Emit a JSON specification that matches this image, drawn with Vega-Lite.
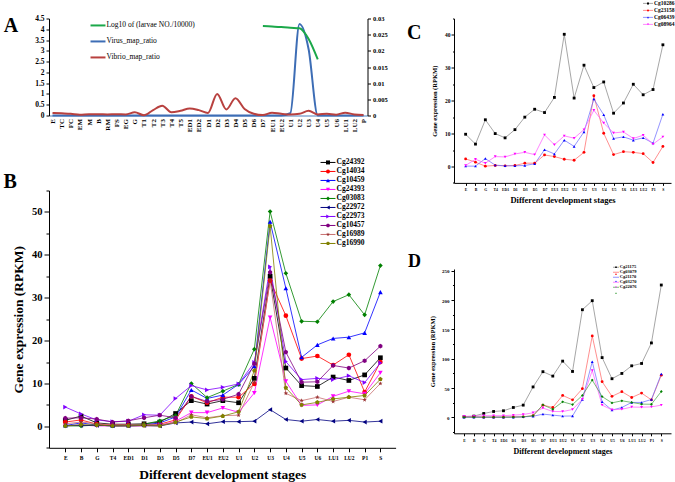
{
"$schema": "https://vega.github.io/schema/vega-lite/v6.json",
"padding": {"left": 3, "top": 0.5, "right": 0, "bottom": 0},
"background": "white",
"datasets": {
"A": [
{"s":"E","Virus_map_ratio":0,"Vibrio_map_ratio":0.0008},
{"s":"TC","Virus_map_ratio":0,"Vibrio_map_ratio":0.00067},
{"s":"FC","Virus_map_ratio":0,"Vibrio_map_ratio":0.00053},
{"s":"EM","Virus_map_ratio":0,"Vibrio_map_ratio":0.00027},
{"s":"M","Virus_map_ratio":0,"Vibrio_map_ratio":0.0004},
{"s":"B","Virus_map_ratio":0,"Vibrio_map_ratio":0.0004},
{"s":"RM","Virus_map_ratio":0,"Vibrio_map_ratio":0.00033},
{"s":"FS","Virus_map_ratio":0,"Vibrio_map_ratio":0.0004},
{"s":"EG","Virus_map_ratio":0,"Vibrio_map_ratio":0.00033},
{"s":"G","Virus_map_ratio":0,"Vibrio_map_ratio":0.001},
{"s":"T1","Virus_map_ratio":0,"Vibrio_map_ratio":0.00007},
{"s":"T2","Virus_map_ratio":0,"Vibrio_map_ratio":0.00167},
{"s":"T3","Virus_map_ratio":0,"Vibrio_map_ratio":0.003},
{"s":"T4","Virus_map_ratio":0,"Vibrio_map_ratio":0.001},
{"s":"T5","Virus_map_ratio":0,"Vibrio_map_ratio":0.00147},
{"s":"ED1","Virus_map_ratio":0,"Vibrio_map_ratio":0.0022},
{"s":"ED2","Virus_map_ratio":0,"Vibrio_map_ratio":0.00167},
{"s":"D1","Virus_map_ratio":0,"Vibrio_map_ratio":0.0008},
{"s":"D2","Virus_map_ratio":0,"Vibrio_map_ratio":0.00667},
{"s":"D3","Virus_map_ratio":0,"Vibrio_map_ratio":0.00187},
{"s":"D4","Virus_map_ratio":0,"Vibrio_map_ratio":0.00533},
{"s":"D5","Virus_map_ratio":0,"Vibrio_map_ratio":0.002},
{"s":"D6","Virus_map_ratio":0,"Vibrio_map_ratio":0.00053},
{"s":"D7","Virus_map_ratio":0,"Vibrio_map_ratio":0.00013,"log":4.15},
{"s":"EU1","Virus_map_ratio":0,"Vibrio_map_ratio":0.00087,"log":4.13},
{"s":"EU2","Virus_map_ratio":0,"Vibrio_map_ratio":0.00053,"log":4.1},
{"s":"U1","Virus_map_ratio":0.0007,"Vibrio_map_ratio":0.00033,"log":4.07},
{"s":"U2","Virus_map_ratio":0.0283,"Vibrio_map_ratio":0.00053,"log":4.05},
{"s":"U3","Virus_map_ratio":0.0205,"Vibrio_map_ratio":0.00147,"log":3.55},
{"s":"U4","Virus_map_ratio":0,"Vibrio_map_ratio":0.00033,"log":2.6},
{"s":"U5","Virus_map_ratio":0,"Vibrio_map_ratio":0.00053},
{"s":"U6","Virus_map_ratio":0,"Vibrio_map_ratio":0.00027},
{"s":"LU1","Virus_map_ratio":0,"Vibrio_map_ratio":0.00087},
{"s":"LU2","Virus_map_ratio":0,"Vibrio_map_ratio":0.00033},
{"s":"P","Virus_map_ratio":0,"Vibrio_map_ratio":0.00013}
],
"B": [
{"s":"E","Cg24392":1.4,"Cg14034":1.0,"Cg10459":0.2,"Cg24393":0.1,"Cg03083":0.1,"Cg22972":0.2,"Cg22973":4.5,"Cg10457":1.9,"Cg16989":0.6,"Cg16990":0.1},
{"s":"B","Cg24392":2.4,"Cg14034":1.5,"Cg10459":0.8,"Cg24393":0.3,"Cg03083":0.1,"Cg22972":0.2,"Cg22973":2.9,"Cg10457":2.0,"Cg16989":1.0,"Cg16990":0.4},
{"s":"G","Cg24392":0.8,"Cg14034":0.5,"Cg10459":0.3,"Cg24393":0.1,"Cg03083":0.3,"Cg22972":0.2,"Cg22973":1.5,"Cg10457":1.7,"Cg16989":0.6,"Cg16990":0.3},
{"s":"T4","Cg24392":0.5,"Cg14034":0.3,"Cg10459":0.1,"Cg24393":0.1,"Cg03083":0.1,"Cg22972":0.2,"Cg22973":1.1,"Cg10457":1.0,"Cg16989":0.3,"Cg16990":0.1},
{"s":"ED1","Cg24392":0.5,"Cg14034":0.3,"Cg10459":0.2,"Cg24393":0.1,"Cg03083":0.2,"Cg22972":0.1,"Cg22973":1.2,"Cg10457":1.3,"Cg16989":0.3,"Cg16990":0.1},
{"s":"D1","Cg24392":0.6,"Cg14034":0.4,"Cg10459":0.3,"Cg24393":0.1,"Cg03083":0.5,"Cg22972":0.2,"Cg22973":2.7,"Cg10457":2.0,"Cg16989":0.4,"Cg16990":0.2},
{"s":"D3","Cg24392":1.0,"Cg14034":0.5,"Cg10459":0.8,"Cg24393":0.2,"Cg03083":1.3,"Cg22972":0.1,"Cg22973":2.6,"Cg10457":2.6,"Cg16989":0.4,"Cg16990":0.1},
{"s":"D5","Cg24392":3.0,"Cg14034":1.5,"Cg10459":2.2,"Cg24393":1.2,"Cg03083":2.5,"Cg22972":0.8,"Cg22973":6.5,"Cg10457":2.0,"Cg16989":0.8,"Cg16990":1.0},
{"s":"D7","Cg24392":6.0,"Cg14034":7.0,"Cg10459":8.5,"Cg24393":3.2,"Cg03083":10.0,"Cg22972":1.0,"Cg22973":9.5,"Cg10457":7.0,"Cg16989":2.7,"Cg16990":2.2},
{"s":"EU1","Cg24392":5.2,"Cg14034":5.5,"Cg10459":6.5,"Cg24393":3.2,"Cg03083":6.7,"Cg22972":0.6,"Cg22973":8.5,"Cg10457":5.8,"Cg16989":2.0,"Cg16990":1.8},
{"s":"EU2","Cg24392":6.0,"Cg14034":6.8,"Cg10459":7.3,"Cg24393":4.3,"Cg03083":8.2,"Cg22972":1.1,"Cg22973":9.1,"Cg10457":6.3,"Cg16989":2.5,"Cg16990":2.4},
{"s":"U1","Cg24392":5.5,"Cg14034":6.8,"Cg10459":9.8,"Cg24393":3.3,"Cg03083":9.8,"Cg22972":1.1,"Cg22973":9.9,"Cg10457":7.5,"Cg16989":2.6,"Cg16990":3.4},
{"s":"U2","Cg24392":11.2,"Cg14034":9.9,"Cg10459":14.0,"Cg24393":7.8,"Cg03083":18.0,"Cg22972":1.2,"Cg22973":14.9,"Cg10457":14.6,"Cg16989":10.3,"Cg16990":13.0},
{"s":"U3","Cg24392":35.0,"Cg14034":34.0,"Cg10459":47.7,"Cg24393":25.4,"Cg03083":50.1,"Cg22972":3.9,"Cg22973":37.2,"Cg10457":35.9,"Cg16989":34.0,"Cg16990":46.7},
{"s":"U4","Cg24392":13.6,"Cg14034":25.8,"Cg10459":32.2,"Cg24393":10.5,"Cg03083":35.7,"Cg22972":1.6,"Cg22973":15.1,"Cg10457":17.3,"Cg16989":7.7,"Cg16990":9.0},
{"s":"U5","Cg24392":9.5,"Cg14034":15.8,"Cg10459":16.1,"Cg24393":4.9,"Cg03083":24.5,"Cg22972":1.2,"Cg22973":10.9,"Cg10457":10.3,"Cg16989":6.0,"Cg16990":5.0},
{"s":"U6","Cg24392":9.3,"Cg14034":16.4,"Cg10459":19.0,"Cg24393":5.0,"Cg03083":24.4,"Cg22972":1.6,"Cg22973":11.2,"Cg10457":10.4,"Cg16989":6.8,"Cg16990":5.6},
{"s":"LU1","Cg24392":11.5,"Cg14034":14.3,"Cg10459":20.5,"Cg24393":7.0,"Cg03083":29.1,"Cg22972":1.2,"Cg22973":10.9,"Cg10457":14.2,"Cg16989":5.8,"Cg16990":6.4},
{"s":"LU2","Cg24392":10.7,"Cg14034":16.7,"Cg10459":20.8,"Cg24393":8.2,"Cg03083":30.7,"Cg22972":1.4,"Cg22973":11.8,"Cg10457":13.6,"Cg16989":6.8,"Cg16990":6.8},
{"s":"P1","Cg24392":12.0,"Cg14034":8.0,"Cg10459":21.8,"Cg24393":7.6,"Cg03083":26.0,"Cg22972":1.0,"Cg22973":10.2,"Cg10457":15.3,"Cg16989":6.2,"Cg16990":7.2},
{"s":"S","Cg24392":16.0,"Cg14034":15.0,"Cg10459":31.3,"Cg24393":12.5,"Cg03083":37.5,"Cg22972":1.2,"Cg22973":14.8,"Cg10457":18.7,"Cg16989":10.0,"Cg16990":11.0}
],
"C": [
{"s":"E","Cg10286":9.8,"Cg23158":2.3,"Cg06439":0.1,"Cg08964":0.3},
{"s":"B","Cg10286":6.8,"Cg23158":1.3,"Cg06439":0.1,"Cg08964":2.2},
{"s":"G","Cg10286":14.2,"Cg23158":0.1,"Cg06439":2.4,"Cg08964":1.0},
{"s":"T4","Cg10286":10.0,"Cg23158":0.3,"Cg06439":0.4,"Cg08964":3.0},
{"s":"ED1","Cg10286":8.7,"Cg23158":0.2,"Cg06439":0.2,"Cg08964":2.9},
{"s":"D1","Cg10286":11.2,"Cg23158":0.3,"Cg06439":0.2,"Cg08964":3.8},
{"s":"D3","Cg10286":15.0,"Cg23158":1.0,"Cg06439":0.3,"Cg08964":4.3},
{"s":"D5","Cg10286":17.4,"Cg23158":1.0,"Cg06439":0.8,"Cg08964":3.6},
{"s":"D7","Cg10286":16.4,"Cg23158":3.5,"Cg06439":5.1,"Cg08964":9.6},
{"s":"EU1","Cg10286":21.0,"Cg23158":3.0,"Cg06439":3.8,"Cg08964":6.6},
{"s":"EU2","Cg10286":40.2,"Cg23158":2.2,"Cg06439":8.0,"Cg08964":9.3},
{"s":"U1","Cg10286":20.8,"Cg23158":1.9,"Cg06439":6.1,"Cg08964":8.6},
{"s":"U2","Cg10286":30.8,"Cg23158":4.3,"Cg06439":10.5,"Cg08964":11.2},
{"s":"U3","Cg10286":24.0,"Cg23158":21.5,"Cg06439":20.5,"Cg08964":17.1},
{"s":"U4","Cg10286":25.7,"Cg23158":10.1,"Cg06439":15.7,"Cg08964":13.2},
{"s":"U5","Cg10286":16.2,"Cg23158":3.6,"Cg06439":8.5,"Cg08964":10.2},
{"s":"U6","Cg10286":19.3,"Cg23158":4.5,"Cg06439":9.0,"Cg08964":10.5},
{"s":"LU1","Cg10286":25.0,"Cg23158":4.3,"Cg06439":8.0,"Cg08964":8.5},
{"s":"LU2","Cg10286":21.8,"Cg23158":3.9,"Cg06439":8.7,"Cg08964":9.5},
{"s":"P1","Cg10286":23.4,"Cg23158":1.2,"Cg06439":7.1,"Cg08964":6.8},
{"s":"S","Cg10286":37.0,"Cg23158":6.1,"Cg06439":15.9,"Cg08964":9.0}
],
"D": [
{"s":"E","Cg21175":1.2,"Cg03079":1,"Cg21170":0.5,"Cg03270":2,"Cg22076":0.5},
{"s":"B","Cg21175":2.3,"Cg03079":1,"Cg21170":0.5,"Cg03270":2,"Cg22076":0.5},
{"s":"G","Cg21175":6.8,"Cg03079":0.5,"Cg21170":0.5,"Cg03270":3,"Cg22076":0.5},
{"s":"T4","Cg21175":10.2,"Cg03079":0.5,"Cg21170":0.5,"Cg03270":3,"Cg22076":0.5},
{"s":"ED1","Cg21175":11.4,"Cg03079":0.5,"Cg21170":0.5,"Cg03270":3,"Cg22076":0.5},
{"s":"D1","Cg21175":17,"Cg03079":1,"Cg21170":0.5,"Cg03270":4,"Cg22076":0.5},
{"s":"D3","Cg21175":21,"Cg03079":1,"Cg21170":1,"Cg03270":5,"Cg22076":1},
{"s":"D5","Cg21175":52,"Cg03079":3,"Cg21170":2,"Cg03270":8,"Cg22076":3},
{"s":"D7","Cg21175":78,"Cg03079":21,"Cg21170":5.7,"Cg03270":16,"Cg22076":21.5},
{"s":"EU1","Cg21175":70.5,"Cg03079":17,"Cg21170":4,"Cg03270":10.2,"Cg22076":14},
{"s":"EU2","Cg21175":96,"Cg03079":37.5,"Cg21170":2.3,"Cg03270":10,"Cg22076":26.7},
{"s":"U1","Cg21175":78.4,"Cg03079":30,"Cg21170":2.5,"Cg03270":13.6,"Cg22076":22},
{"s":"U2","Cg21175":183.6,"Cg03079":49,"Cg21170":30.7,"Cg03270":31,"Cg22076":37.5},
{"s":"U3","Cg21175":199,"Cg03079":139,"Cg21170":95,"Cg03270":80,"Cg22076":63.7},
{"s":"U4","Cg21175":102,"Cg03079":61,"Cg21170":26.7,"Cg03270":21,"Cg22076":35.6},
{"s":"U5","Cg21175":66,"Cg03079":36,"Cg21170":12.5,"Cg03270":13,"Cg22076":24.8},
{"s":"U6","Cg21175":75,"Cg03079":44,"Cg21170":17,"Cg03270":14,"Cg22076":28.4},
{"s":"LU1","Cg21175":88,"Cg03079":34,"Cg21170":25.6,"Cg03270":17.7,"Cg22076":25.6},
{"s":"LU2","Cg21175":92,"Cg03079":41.5,"Cg21170":25.6,"Cg03270":17.5,"Cg22076":22.7},
{"s":"P1","Cg21175":127,"Cg03079":30,"Cg21170":30.6,"Cg03270":18,"Cg22076":22.5},
{"s":"S","Cg21175":225.7,"Cg03079":72,"Cg21170":74,"Cg03270":21,"Cg22076":44.3}
]
},
"spacing": 11,
"bounds": "full",
"resolve": {"scale": {"x": "independent", "y": "independent", "color": "independent", "stroke": "independent", "fill": "independent", "shape": "independent"}, "legend": {"color": "independent", "stroke": "independent", "fill": "independent", "shape": "independent"}},
"hconcat": [
{
"spacing": 75,
"bounds": "flush",
"resolve": {"scale": {"x": "independent", "y": "independent", "color": "independent", "stroke": "independent", "fill": "independent", "shape": "independent"}, "legend": {"color": "independent", "stroke": "independent", "fill": "independent", "shape": "independent"}},
"vconcat": [
{
"width": 318.5,
"height": 97,
"title": {"text": "A", "fontSize": 20, "dx": -45.2, "dy": 25},
"data": {"name": "A"},
"layer": [
{
"transform": [{"fold": ["Virus_map_ratio", "Vibrio_map_ratio"], "as": ["series", "v"]}],
"mark": {"type": "line", "strokeWidth": 2, "interpolate": "monotone"},
"encoding": {
"x": {"field": "s", "type": "nominal", "scale": {"type": "point", "domain": ["E","TC","FC","EM","M","B","RM","FS","EG","G","T1","T2","T3","T4","T5","ED1","ED2","D1","D2","D3","D4","D5","D6","D7","EU1","EU2","U1","U2","U3","U4","U5","U6","LU1","LU2","P"], "padding": 0.41, "align": 0.467}, "axis": {"labelAngle": 270, "labelFontSize": 7, "title": null, "ticks": false, "domainColor": "#4F81BD", "labelPadding": 3}},
"y": {"field": "v", "type": "quantitative", "scale": {"domain": [0, 0.03], "nice": false, "zero": false}, "axis": {"orient": "right", "values": [0, 0.005, 0.01, 0.015, 0.02, 0.025, 0.03], "format": "~g", "title": null, "labelFontSize": 6.5, "tickSize": 3, "labelPadding": 2}},
"color": {"field": "series", "type": "nominal", "scale": {"domain": ["Log10 of (larvae NO./10000)", "Virus_map_ratio", "Vibrio_map_ratio"], "range": ["#1BA84A", "#3D6DB5", "#B8413F"]}, "legend": {"orient": "none", "legendX": 45.25, "legendY": 3.2, "title": null, "symbolType": "M-4,0H4", "symbolSize": 14, "symbolStrokeWidth": 2, "labelFontSize": 7.5, "labelFontWeight": "normal", "rowPadding": 7, "labelOffset": 4.75}}
}
},
{
"transform": [{"filter": "isValid(datum.log)"}],
"mark": {"type": "line", "strokeWidth": 2, "interpolate": "monotone"},
"encoding": {
"x": {"field": "s", "type": "nominal", "scale": {"type": "point", "domain": ["E","TC","FC","EM","M","B","RM","FS","EG","G","T1","T2","T3","T4","T5","ED1","ED2","D1","D2","D3","D4","D5","D6","D7","EU1","EU2","U1","U2","U3","U4","U5","U6","LU1","LU2","P"], "padding": 0.41, "align": 0.467}, "axis": {"labelAngle": 270, "labelFontSize": 7, "title": null, "ticks": false, "domainColor": "#4F81BD", "labelPadding": 3}},
"y": {"field": "log", "type": "quantitative", "scale": {"domain": [0, 4.5], "nice": false, "zero": false}, "axis": {"orient": "left", "values": [0, 0.5, 1, 1.5, 2, 2.5, 3, 3.5, 4, 4.5], "format": "~g", "title": null, "labelFontSize": 7.5, "tickSize": 3, "labelPadding": 2}},
"color": {"datum": "Log10 of (larvae NO./10000)", "type": "nominal", "scale": {"domain": ["Log10 of (larvae NO./10000)", "Virus_map_ratio", "Vibrio_map_ratio"], "range": ["#1BA84A", "#3D6DB5", "#B8413F"]}, "legend": {"orient": "none", "legendX": 45.25, "legendY": 3.2, "title": null, "symbolType": "M-4,0H4", "symbolSize": 14, "symbolStrokeWidth": 2, "labelFontSize": 7.5, "labelFontWeight": "normal", "rowPadding": 7, "labelOffset": 4.75}}
}
}
],
"resolve": {"scale": {"y": "independent"}}
},
{
"width": 346.6,
"height": 257.3,
"title": {"text": "B", "fontSize": 20, "dx": -45.5, "dy": 37},
"data": {"name": "B"},
"transform": [{"fold": ["Cg24392","Cg14034","Cg10459","Cg24393","Cg03083","Cg22972","Cg22973","Cg10457","Cg16989","Cg16990"], "as": ["g", "v"]}],
"encoding": {
"x": {"field": "s", "type": "nominal", "scale": {"type": "point", "domain": ["E","B","G","T4","ED1","D1","D3","D5","D7","EU1","EU2","U1","U2","U3","U4","U5","U6","LU1","LU2","P1","S"], "padding": 2.05, "align": 0.517}, "axis": {"labelAngle": 0, "labelFontSize": 5.5, "tickSize": 4, "labelPadding": 3.5, "title": "Different development stages", "titleFontSize": 13.5, "titlePadding": 7}},
"y": {"field": "v", "type": "quantitative", "scale": {"domain": [-5, 55], "nice": false, "zero": false}, "axis": {"values": [-5,0,5,10,15,20,25,30,35,40,45,50,55], "labelExpr": "datum.value >= 0 && datum.value % 10 == 0 ? datum.label : ''", "tickSize": {"condition": {"test": "datum.value % 10 == 0", "value": 5}, "value": 3}, "labelFontSize": 10.5, "labelPadding": 2, "title": "Gene expression (RPKM)", "titleFontSize": 13.5, "titlePadding": 6}}
},
"layer": [
{
"mark": {"type": "line", "strokeWidth": 0.8},
"encoding": {
"stroke": {"field": "g", "type": "nominal", "scale": {"domain": ["Cg24392","Cg14034","Cg10459","Cg24393","Cg03083","Cg22972","Cg22973","Cg10457","Cg16989","Cg16990"], "range": ["#000000","#FF0000","#0000FF","#FF00FF","#008000","#000080","#8000FF","#800080","#C87070","#808000"]}, "legend": {"orient": "none", "legendX": 275.25, "legendY": -31.8, "title": null, "symbolType": "M-4,0H4", "symbolSize": 14, "symbolStrokeWidth": 1, "labelFontSize": 7.5, "rowPadding": 0.001, "labelOffset": 4.75}}
}
},
{
"mark": {"type": "point", "filled": true, "size": 22, "opacity": 1},
"encoding": {
"shape": {"field": "g", "type": "nominal", "scale": {"domain": ["Cg24392","Cg14034","Cg10459","Cg24393","Cg03083","Cg22972","Cg22973","Cg10457","Cg16989","Cg16990","~"], "range": ["square","circle","triangle-up","triangle-down","diamond","triangle-left","triangle-right","M0,-1L0.866,-0.5L0.866,0.5L0,1L-0.866,0.5L-0.866,-0.5Z","M0,-1L0.235,-0.324L0.951,-0.309L0.38,0.124L0.588,0.809L0,0.4L-0.588,0.809L-0.38,0.124L-0.951,-0.309L-0.235,-0.324Z","M0,-1L0.951,-0.309L0.588,0.809L-0.588,0.809L-0.951,-0.309Z","M0,0"]}, "legend": {"orient": "none", "legendX": 275.25, "legendY": -31.8, "title": null, "values": ["Cg24392","Cg14034","Cg10459","Cg24393","Cg03083","Cg22972","Cg22973","Cg10457","Cg16989","Cg16990"], "symbolSize": 16, "labelFontSize": 7.5, "labelOpacity": 0, "rowPadding": -2.1, "labelOffset": -60}},
"fill": {"field": "g", "type": "nominal", "scale": {"domain": ["Cg24392","Cg14034","Cg10459","Cg24393","Cg03083","Cg22972","Cg22973","Cg10457","Cg16989","Cg16990","~"], "range": ["#000000","#FF0000","#0000FF","#FF00FF","#008000","#000080","#8000FF","#800080","#993333","#808000","#ffffff"]}, "legend": {"orient": "none", "legendX": 275.25, "legendY": -31.8, "title": null, "values": ["Cg24392","Cg14034","Cg10459","Cg24393","Cg03083","Cg22972","Cg22973","Cg10457","Cg16989","Cg16990"], "symbolSize": 16, "labelFontSize": 7.5, "labelOpacity": 0, "rowPadding": -2.1, "labelOffset": -60}}
}
}
]
}
]
},
{
"spacing": 85.5,
"bounds": "flush",
"resolve": {"scale": {"x": "independent", "y": "independent", "color": "independent", "stroke": "independent", "fill": "independent", "shape": "independent"}, "legend": {"color": "independent", "stroke": "independent", "fill": "independent", "shape": "independent"}},
"vconcat": [
{
"width": 217,
"height": 164.4,
"title": {"text": "C", "fontSize": 20, "dx": -47, "dy": 46},
"data": {"name": "C"},
"transform": [{"fold": ["Cg10286","Cg23158","Cg06439","Cg08964"], "as": ["g", "v"]}],
"encoding": {
"x": {"field": "s", "type": "nominal", "scale": {"type": "point", "domain": ["E","B","G","T4","ED1","D1","D3","D5","D7","EU1","EU2","U1","U2","U3","U4","U5","U6","LU1","LU2","P1","S"], "padding": 1.75, "align": 0.589}, "axis": {"labelAngle": 0, "labelFontSize": 3.8, "tickSize": 2.5, "labelPadding": 2.5, "title": "Different development stages", "titleFontSize": 8.5, "titlePadding": 4}},
"y": {"field": "v", "type": "quantitative", "scale": {"domain": [-5, 45], "nice": false, "zero": false}, "axis": {"values": [-5,0,5,10,15,20,25,30,35,40,45], "labelExpr": "datum.value >= 0 && datum.value % 10 == 0 ? datum.label : ''", "tickSize": {"condition": {"test": "datum.value % 10 == 0", "value": 3}, "value": 1.5}, "labelFontSize": 5.5, "labelPadding": 1, "title": "Gene expression (RPKM)", "titleFontSize": 6.5, "titlePadding": 7}}
},
"layer": [
{
"mark": {"type": "line", "strokeWidth": 0.7},
"encoding": {
"stroke": {"field": "g", "type": "nominal", "scale": {"domain": ["Cg10286","Cg23158","Cg06439","Cg08964"], "range": ["#808080","#FF6060","#6666FF","#FF55FF"]}, "legend": {"orient": "none", "legendX": 191.25, "legendY": -17.85, "title": null, "symbolType": "M-4,0H4", "symbolSize": 6.25, "symbolStrokeWidth": 0.7, "labelFontSize": 5.5, "rowPadding": 0.001, "labelOffset": 3.25}}
}
},
{
"mark": {"type": "point", "filled": true, "size": 8, "opacity": 1},
"encoding": {
"shape": {"field": "g", "type": "nominal", "scale": {"domain": ["Cg10286","Cg23158","Cg06439","Cg08964","~"], "range": ["square","circle","triangle-up","triangle-down","M0,0"]}, "legend": {"orient": "none", "legendX": 191.25, "legendY": -17.85, "title": null, "values": ["Cg10286","Cg23158","Cg06439","Cg08964"], "symbolSize": 4, "labelFontSize": 5.5, "labelOpacity": 0, "rowPadding": -2, "labelOffset": -50}},
"fill": {"field": "g", "type": "nominal", "scale": {"domain": ["Cg10286","Cg23158","Cg06439","Cg08964","~"], "range": ["#000000","#FF0000","#0000FF","#FF00FF","#ffffff"]}, "legend": {"orient": "none", "legendX": 191.25, "legendY": -17.85, "title": null, "values": ["Cg10286","Cg23158","Cg06439","Cg08964"], "symbolSize": 4, "labelFontSize": 5.5, "labelOpacity": 0, "rowPadding": -2, "labelOffset": -50}}
}
}
]
},
{
"width": 217,
"height": 164.3,
"title": {"text": "D", "fontSize": 18, "dx": -46, "dy": 10},
"data": {"name": "D"},
"transform": [{"fold": ["Cg21175","Cg03079","Cg21170","Cg03270","Cg22076"], "as": ["g", "v"]}],
"encoding": {
"x": {"field": "s", "type": "nominal", "scale": {"type": "point", "domain": ["E","B","G","T4","ED1","D1","D3","D5","D7","EU1","EU2","U1","U2","U3","U4","U5","U6","LU1","LU2","P1","S"], "padding": 1.86, "align": 0.508}, "axis": {"labelAngle": 0, "labelFontSize": 3.8, "tickSize": 2.5, "labelPadding": 2.5, "title": "Different development stages", "titleFontSize": 8, "titlePadding": 5}},
"y": {"field": "v", "type": "quantitative", "scale": {"domain": [-27, 253], "nice": false, "zero": false}, "axis": {"values": [-25,0,25,50,75,100,125,150,175,200,225,250], "labelExpr": "datum.value >= 0 && datum.value % 50 == 0 ? datum.label : ''", "tickSize": {"condition": {"test": "datum.value % 50 == 0", "value": 3}, "value": 1.5}, "labelFontSize": 5, "labelPadding": 2, "title": "Gene expression (RPKM)", "titleFontSize": 6.5, "titlePadding": 6}}
},
"layer": [
{
"mark": {"type": "line", "strokeWidth": 0.7},
"encoding": {
"stroke": {"field": "g", "type": "nominal", "scale": {"domain": ["Cg21175","Cg03079","Cg21170","Cg03270","Cg22076"], "range": ["#808080","#FF6060","#6666FF","#FF55FF","#40A040"]}, "legend": {"orient": "none", "legendX": 159.75, "legendY": -4, "title": null, "symbolType": "M-4,0H4", "symbolSize": 2.25, "symbolStrokeWidth": 0.7, "labelFontSize": 4.5, "rowPadding": 0.001, "labelOffset": 1.45}}
}
},
{
"mark": {"type": "point", "filled": true, "size": 8, "opacity": 1},
"encoding": {
"shape": {"field": "g", "type": "nominal", "scale": {"domain": ["Cg21175","Cg03079","Cg21170","Cg03270","Cg22076","~"], "range": ["square","circle","triangle-up","triangle-down","diamond","M0,0"]}, "legend": {"orient": "none", "legendX": 159.75, "legendY": -4, "title": null, "values": ["Cg21175","Cg03079","Cg21170","Cg03270","Cg22076"], "symbolSize": 2.5, "labelFontSize": 4.5, "labelOpacity": 0, "rowPadding": -2, "labelOffset": -45}},
"fill": {"field": "g", "type": "nominal", "scale": {"domain": ["Cg21175","Cg03079","Cg21170","Cg03270","Cg22076","~"], "range": ["#000000","#FF0000","#0000FF","#FF00FF","#008000","#ffffff"]}, "legend": {"orient": "none", "legendX": 159.75, "legendY": -4, "title": null, "values": ["Cg21175","Cg03079","Cg21170","Cg03270","Cg22076"], "symbolSize": 2.5, "labelFontSize": 4.5, "labelOpacity": 0, "rowPadding": -2, "labelOffset": -45}}
}
}
]
}
]
}
],
"config": {
"font": "Liberation Serif",
"view": {"stroke": null},
"axis": {"grid": false, "domainColor": "#000000", "tickColor": "#000000", "labelColor": "#000000", "titleColor": "#000000", "labelFont": "Liberation Serif", "titleFont": "Liberation Serif", "labelFontWeight": "bold", "titleFontWeight": "bold", "domainWidth": 1, "tickWidth": 1},
"legend": {"labelColor": "#000000", "labelFont": "Liberation Serif", "labelFontWeight": "bold", "padding": 0},
"title": {"font": "Liberation Serif", "fontWeight": "bold", "color": "#000000", "anchor": "start", "frame": "group", "offset": 0}
}
}
